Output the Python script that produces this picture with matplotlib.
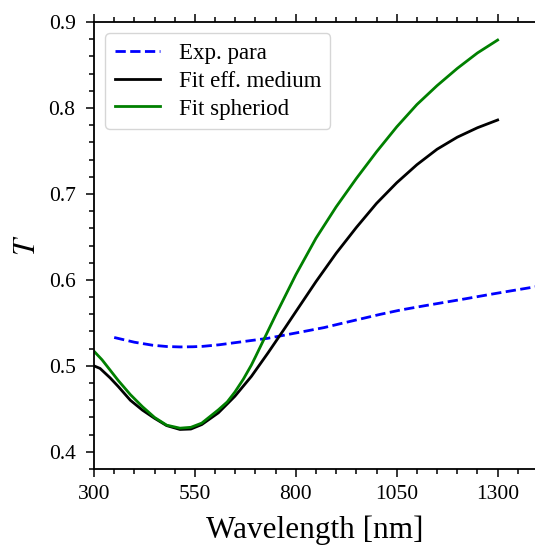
import matplotlib
matplotlib.use('Agg')
import matplotlib.pyplot as plt
from matplotlib.ticker import MultipleLocator

plt.rcParams['font.family'] = ['Liberation Serif', 'DejaVu Serif']
plt.rcParams['mathtext.fontset'] = 'stix'

#%% values
wl_exp = [350, 400, 445, 480, 513, 545, 570, 610, 650, 690, 730, 775, 820,
          870, 910, 960, 1010, 1060, 1120, 1170, 1220, 1280, 1330, 1400]
T_exp = [0.533, 0.5275, 0.524, 0.5225, 0.522, 0.5222, 0.5227, 0.5245, 0.527,
         0.5295, 0.532, 0.536, 0.540, 0.5445, 0.549, 0.5545, 0.560, 0.565,
         0.570, 0.574, 0.578, 0.583, 0.587, 0.5925]

wl_med = [300, 315, 340, 360, 390, 420, 450, 480, 513, 540, 567, 608, 649,
          690, 731, 773, 800, 850, 900, 950, 1000, 1050, 1100, 1150, 1200,
          1250, 1300]
T_med = [0.500, 0.497, 0.486, 0.476, 0.460, 0.4485, 0.439, 0.4305, 0.426,
         0.4265, 0.4317, 0.4453, 0.4646, 0.4878, 0.515, 0.544, 0.563, 0.598,
         0.631, 0.661, 0.689, 0.713, 0.734, 0.752, 0.766, 0.777, 0.786]

wl_sph = [300, 320, 340, 360, 390, 420, 450, 480, 513, 540, 567, 608, 630,
          649, 670, 690, 700, 750, 800, 850, 900, 950, 1000, 1050, 1100,
          1150, 1200, 1250, 1300]
T_sph = [0.517, 0.507, 0.495, 0.483, 0.4666, 0.4525, 0.440, 0.431, 0.4275,
         0.4285, 0.4334, 0.4488, 0.458, 0.4695, 0.4845, 0.501, 0.5105, 0.559,
         0.606, 0.6485, 0.685, 0.718, 0.749, 0.778, 0.804, 0.826, 0.846,
         0.864, 0.879]

#%% plot
fig = plt.figure(figsize=(5.35, 5.47), dpi=100)
ax = fig.add_axes([94/535, 78/547, 444/535, 447/547])

ax.plot(wl_exp, T_exp, 'b--', lw=2, label='Exp. para')
ax.plot(wl_med, T_med, 'k-', lw=2, label='Fit eff. medium')
ax.plot(wl_sph, T_sph, '-', color='green', lw=2, label='Fit spheriod')

ax.set_xlim(300, 1400)
ax.set_ylim(0.38, 0.9)
ax.set_xticks([300, 550, 800, 1050, 1300])
ax.set_yticks([0.4, 0.5, 0.6, 0.7, 0.8, 0.9])
ax.xaxis.set_minor_locator(MultipleLocator(50))
ax.yaxis.set_minor_locator(MultipleLocator(0.02))
ax.tick_params(which='both', direction='out', top=True, right=True,
               labelsize=15.5, width=1.1)
ax.tick_params(which='major', length=5.8)
ax.tick_params(which='minor', length=3.4)
ax.tick_params(axis='x', which='major', pad=5.5)
ax.tick_params(axis='y', which='major', pad=7.5)
for s in ax.spines.values():
    s.set_linewidth(1.3)

ax.set_xlabel('Wavelength [nm]', fontsize=22.5)
ax.set_ylabel(r'$T$', fontsize=22)
ax.xaxis.set_label_coords(0.497, -0.104)
ax.yaxis.set_label_coords(-0.118, 0.5)
ax.legend(loc='upper left', fontsize=16.5, labelspacing=0.3)

fig.savefig('out.png', dpi=100)
